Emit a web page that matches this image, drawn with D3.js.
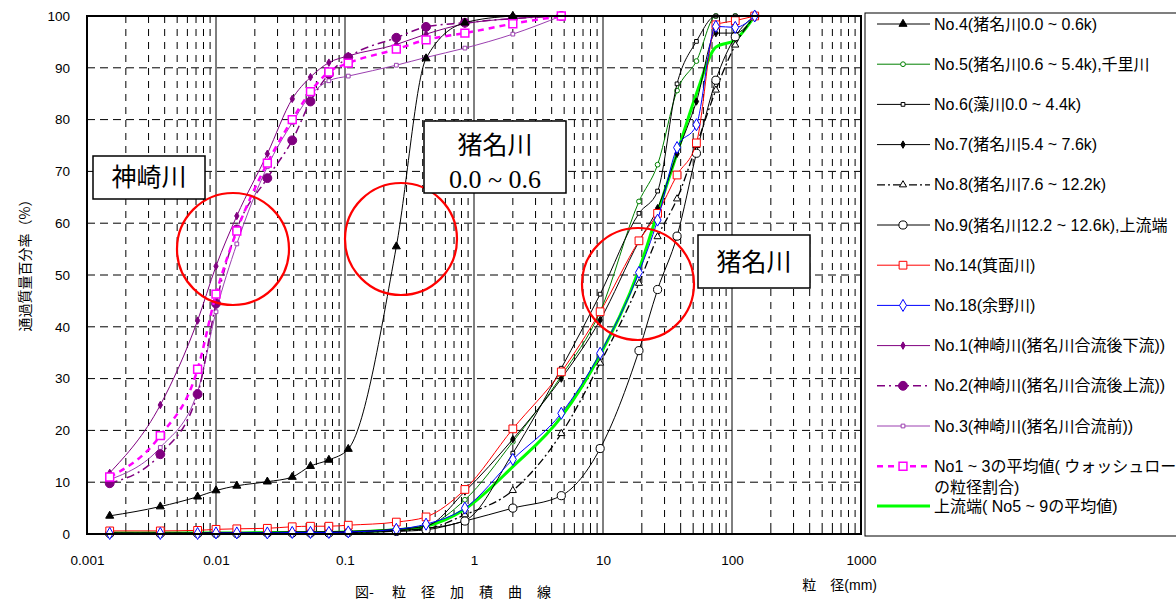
<!DOCTYPE html>
<html>
<head>
<meta charset="utf-8">
<script src="https://cdn.jsdelivr.net/npm/d3@7"></script>
<style>
body { margin: 0; background: #fff; }
text { font-family: "Liberation Sans", Arial, "Noto Sans CJK JP", sans-serif; }
</style>
</head>
<body>
<svg id="chart" width="1176" height="600"></svg>
<script>
// sieve / hydrometer sizes (mm)
const sizes = [0.0015, 0.0037, 0.0072, 0.01, 0.0145, 0.025, 0.039, 0.054, 0.075, 0.106,
       0.25, 0.425, 0.85, 2, 4.75, 9.5, 19, 26.5, 37.5, 53, 75, 106, 150];

// percent passing
const no4  = [3.5, 5.3, 7.2, 8.4, 9.3, 10.1, 11.0, 13.1, 14.3, 16.4, 55.5, 91.8, 98.7, 100];
const no5  = [0.2, 0.2, 0.2, 0.3, 0.3, 0.3, 0.4, 0.4, 0.4, 0.5, 1.0, 1.6, 6.6, 17.8, 30.5, 42.9, 64.2, 71.3, 85.6, 91.3, 100, 100, 100];
const no6  = [0.1, 0.1, 0.1, 0.2, 0.2, 0.2, 0.3, 0.3, 0.3, 0.4, 0.7, 1.1, 2.6, 15.6, 32.0, 46.3, 61.9, 66.2, 86.9, 95.1, 100, 100, 100];
const no7  = [0.2, 0.2, 0.2, 0.3, 0.3, 0.3, 0.4, 0.4, 0.4, 0.5, 0.9, 1.5, 8.2, 18.3, 30.0, 41.3, 56.5, 62.9, 73.4, 83.5, 96.7, 96.7, 100];
const no8  = [0.1, 0.1, 0.1, 0.2, 0.2, 0.2, 0.2, 0.3, 0.3, 0.3, 0.6, 1.0, 3.7, 8.4, 19.4, 33.0, 48.4, 57.4, 64.7, 75.0, 85.7, 94.4, 100];
const no9  = [0.1, 0.1, 0.1, 0.1, 0.1, 0.2, 0.2, 0.2, 0.2, 0.3, 0.5, 0.8, 2.5, 5.0, 7.4, 16.5, 35.4, 47.2, 57.5, 73.5, 87.6, 96.0, 100];
const no14 = [0.6, 0.6, 0.7, 0.9, 1.0, 1.1, 1.4, 1.5, 1.5, 1.7, 2.3, 3.3, 8.6, 20.3, 31.3, 42.9, 56.6, 61.9, 69.3, 75.5, 98.3, 99.1, 100];
const no18 = [0.1, 0.1, 0.1, 0.2, 0.2, 0.2, 0.3, 0.3, 0.3, 0.4, 0.9, 1.9, 5.0, 14.4, 23.3, 34.9, 50.5, 60.6, 74.6, 79.0, 98.0, 97.8, 100];
const no1  = [11.8, 24.9, 41.2, 51.7, 61.4, 73.4, 84.0, 88.2, 91.0, 92.3, 94.5, 96.5, 98.5, 99.5, 100];
const no2  = [9.8, 15.4, 27.0, 44.5, 58.8, 68.7, 76.0, 83.5, 88.8, 92.0, 95.8, 97.9, 98.7, 99.5, 100];
const no3  = [10.5, 16.7, 27.5, 42.9, 56.0, 70.9, 79.4, 84.7, 87.5, 88.4, 90.5, 92.0, 93.8, 96.5, 100];
const avg13 = [11.0, 19.0, 31.8, 46.3, 58.5, 71.6, 80.0, 85.4, 89.2, 90.9, 93.6, 95.4, 96.7, 98.5, 100];
const avg59 = [0.2, 0.2, 0.2, 0.2, 0.2, 0.3, 0.3, 0.3, 0.3, 0.4, 0.8, 1.5, 4.8, 13.0, 22.6, 34.6, 51.0, 62.0, 73.5, 85.0, 94.0, 95.4, 100];

const xTicks = [0.001, 0.01, 0.1, 1, 10, 100, 1000];
const yTicks = [0, 10, 20, 30, 40, 50, 60, 70, 80, 90, 100];

const names = ['No.4(猪名川0.0 ~ 0.6k)', 'No.5(猪名川0.6 ~ 5.4k),千里川', 'No.6(藻川0.0 ~ 4.4k)',
       'No.7(猪名川5.4 ~ 7.6k)', 'No.8(猪名川7.6 ~ 12.2k)', 'No.9(猪名川12.2 ~ 12.6k),上流端',
       'No.14(箕面川)', 'No.18(余野川)', 'No.1(神崎川(猪名川合流後下流))', 'No.2(神崎川(猪名川合流後上流))',
       'No.3(神崎川(猪名川合流前))', 'No1 ~ 3の平均値( ウォッシュロード|の粒径割合)', '上流端( No5 ~ 9の平均値)'];

// style per series (same order as names)
const series = [
    {v: no4,  color: '#000', w: 1,   dash: null,        mark: 'triFill'},
    {v: no5,  color: '#008000', w: 1, dash: null,       mark: 'circSmall'},
    {v: no6,  color: '#000', w: 1,   dash: null,        mark: 'sqSmall'},
    {v: no7,  color: '#000', w: 1,   dash: null,        mark: 'diaSmall'},
    {v: no8,  color: '#000', w: 1.3, dash: '8,3,2,3',   mark: 'triOpen'},
    {v: no9,  color: '#000', w: 1,   dash: null,        mark: 'circ'},
    {v: no14, color: '#ff0000', w: 1, dash: null,       mark: 'sq'},
    {v: no18, color: '#0000ff', w: 1, dash: null,       mark: 'dia'},
    {v: no1,  color: '#800080', w: 1, dash: null,       mark: 'diaSmall'},
    {v: no2,  color: '#800080', w: 1.5, dash: '8,4,2,4', mark: 'dot'},
    {v: no3,  color: '#9b3fb0', w: 1, dash: null,       mark: 'sqSmall'},
    {v: avg13, color: '#ff00ff', w: 2.5, dash: '6,5',   mark: 'sqMag'},
    {v: avg59, color: '#00ff00', w: 3, dash: null,      mark: null}
];

const margin = {left: 87, right: 861, top: 16, bottom: 534};
var xs = d3.scaleLog().domain([0.001, 1000]).range([margin.left, margin.right]);
var ys = d3.scaleLinear().domain([0, 100]).range([margin.bottom, margin.top]);
var chart = d3.select('#chart');

function drawMarker(g, type, x, y, color) {
    var sym = {triFill: d3.symbolTriangle, triOpen: d3.symbolTriangle, circSmall: d3.symbolCircle,
               sqSmall: d3.symbolSquare, diaSmall: d3.symbolDiamond, circ: d3.symbolCircle,
               sq: d3.symbolSquare, dia: d3.symbolDiamond, dot: d3.symbolCircle, sqMag: d3.symbolSquare}[type];
    var size = {triFill: 28, triOpen: 22, circSmall: 18, sqSmall: 14, diaSmall: 16, circ: 52,
                sq: 60, dia: 42, dot: 62, sqMag: 62}[type];
    var filled = (type == 'triFill' || type == 'diaSmall' || type == 'dot');
    g.append('path')
        .attr('transform', 'translate(' + x + ',' + y + ')')
        .attr('d', d3.symbol().type(sym).size(size)())
        .attr('fill', filled ? color : '#fff')
        .attr('stroke', color)
        .attr('stroke-width', type == 'sqMag' ? 1.5 : 1);
}

function create_grid() {
    var grid = chart.append('g');
    yTicks.slice(1, -1).forEach(function (v) {
        grid.append('line')
            .attr('x1', margin.left).attr('x2', margin.right)
            .attr('y1', ys(v)).attr('y2', ys(v))
            .attr('stroke', '#000').attr('stroke-width', 1).attr('stroke-dasharray', '8,5');
    });
    for (var d = 0.001; d < 1000; d *= 10) {
        for (var k = 2; k <= 9; k++) {
            var x = xs(d * k);
            grid.append('line')
                .attr('x1', x).attr('x2', x).attr('y1', margin.top).attr('y2', margin.bottom)
                .attr('stroke', '#000').attr('stroke-width', 1).attr('stroke-dasharray', '7,6');
            grid.append('line')
                .attr('x1', x).attr('x2', x).attr('y1', margin.bottom - 4).attr('y2', margin.bottom)
                .attr('stroke', '#000').attr('stroke-width', 1);
        }
    }
    xTicks.slice(1, -1).forEach(function (v) {
        grid.append('line')
            .attr('x1', xs(v)).attr('x2', xs(v)).attr('y1', margin.top).attr('y2', margin.bottom)
            .attr('stroke', '#000').attr('stroke-width', 1);
    });
}

function create_series() {
    var line = d3.line()
        .defined(function (d) { return d[1] != null; })
        .x(function (d) { return xs(d[0]); })
        .y(function (d) { return ys(d[1]); })
        .curve(d3.curveMonotoneX);
    // inagawa group first, kanzaki and No.4 on top
    var order = [12, 1, 2, 3, 4, 5, 6, 7, 10, 8, 9, 11, 0];
    order.forEach(function (i) {
        var s = series[i];
        var pts = s.v.map(function (v, j) { return [sizes[j], v]; });
        var g = chart.append('g');
        g.append('path')
            .attr('d', line(pts))
            .attr('fill', 'none')
            .attr('stroke', s.color)
            .attr('stroke-width', s.w)
            .attr('stroke-dasharray', s.dash);
        if (s.mark) {
            pts.forEach(function (p) {
                if (p[1] != null) drawMarker(g, s.mark, xs(p[0]), ys(p[1]), s.color);
            });
        }
    });
}

function create_axes() {
    chart.append('g')
        .attr('transform', 'translate(0,' + margin.bottom + ')')
        .call(d3.axisBottom(xs).tickValues(xTicks).tickSize(0).tickPadding(21)
            .tickFormat(function (d) { return d >= 1 ? d3.format('d')(d) : String(+d.toPrecision(1)); }))
        .call(function (g) { g.select('.domain').remove(); })
        .selectAll('text').style('font-size', '13.5px').attr('fill', '#000');
    chart.append('g')
        .attr('transform', 'translate(' + margin.left + ',0)')
        .call(d3.axisLeft(ys).tickValues(yTicks).tickSize(0).tickPadding(17))
        .call(function (g) { g.select('.domain').remove(); })
        .selectAll('text').style('font-size', '13.5px').attr('fill', '#000');

    chart.append('rect')
        .attr('x', margin.left).attr('y', margin.top)
        .attr('width', margin.right - margin.left).attr('height', margin.bottom - margin.top)
        .attr('fill', 'none').attr('stroke', '#000').attr('stroke-width', 2);

    chart.append('text')
        .attr('transform', 'translate(30,262) rotate(-90)')
        .attr('text-anchor', 'middle')
        .style('font-size', '14px')
        .style('font-family', '"Noto Sans CJK JP", sans-serif')
        .text('通過質量百分率（%）');
    chart.append('text')
        .attr('x', 877).attr('y', 590)
        .attr('text-anchor', 'end')
        .style('font-size', '14px')
        .text('粒　径(mm)');
    var t = chart.append('text')
        .attr('y', 597)
        .style('font-size', '14px')
        .style('font-family', '"Noto Sans CJK JP", sans-serif');
    t.append('tspan').attr('x', 355).text('図-');
    t.append('tspan').attr('x', 392).style('letter-spacing', '15px').text('粒径加積曲線');
}

function create_notes() {
    [[233, 249], [401, 239], [638, 284]].forEach(function (c) {
        chart.append('circle')
            .attr('cx', c[0]).attr('cy', c[1]).attr('r', 56)
            .attr('fill', 'none').attr('stroke', '#ff0000').attr('stroke-width', 2.2);
    });
    function box(x, y, w, h) {
        chart.append('rect').attr('x', x).attr('y', y).attr('width', w).attr('height', h)
            .attr('fill', '#fff').attr('stroke', '#000').attr('stroke-width', 1.5);
    }
    box(93, 156, 112, 43);
    chart.append('text').attr('x', 149).attr('y', 186).attr('text-anchor', 'middle')
        .style('font-size', '25px').style('font-family', '"Noto Sans CJK JP", sans-serif').text('神崎川');
    box(424, 121, 142, 72);
    chart.append('text').attr('x', 495).attr('y', 154).attr('text-anchor', 'middle')
        .style('font-size', '25px').style('font-family', '"Noto Sans CJK JP", sans-serif').text('猪名川');
    chart.append('text').attr('x', 495).attr('y', 188).attr('text-anchor', 'middle')
        .style('font-size', '26px').style('font-family', '"Liberation Serif", "Noto Sans CJK JP", serif').text('0.0 ~ 0.6');
    box(698, 235, 112, 53);
    chart.append('text').attr('x', 754).attr('y', 271).attr('text-anchor', 'middle')
        .style('font-size', '25px').style('font-family', '"Noto Sans CJK JP", sans-serif').text('猪名川');
}

function create_legend() {
    var lg = chart.append('g');
    lg.append('rect')
        .attr('x', 865).attr('y', 13).attr('width', 330).attr('height', 523)
        .attr('fill', '#fff').attr('stroke', '#000').attr('stroke-width', 1);
    names.forEach(function (name, i) {
        var s = series[i];
        var y = i < 12 ? 24 + i * 40.2 : 506;
        lg.append('line')
            .attr('x1', 877).attr('x2', 930).attr('y1', y).attr('y2', y)
            .attr('stroke', s.color).attr('stroke-width', s.w)
            .attr('stroke-dasharray', s.dash);
        if (s.mark) drawMarker(lg, s.mark, 903, y, s.color);
        name.split('|').forEach(function (p, k) {
            lg.append('text')
                .attr('x', 934).attr('y', y + 5.5 + k * 21)
                .style('font-size', '16px')
                .attr('fill', '#000')
                .text(p);
        });
    });
}

create_grid();
create_series();
create_notes();
create_axes();
create_legend();
</script>
</body>
</html>
